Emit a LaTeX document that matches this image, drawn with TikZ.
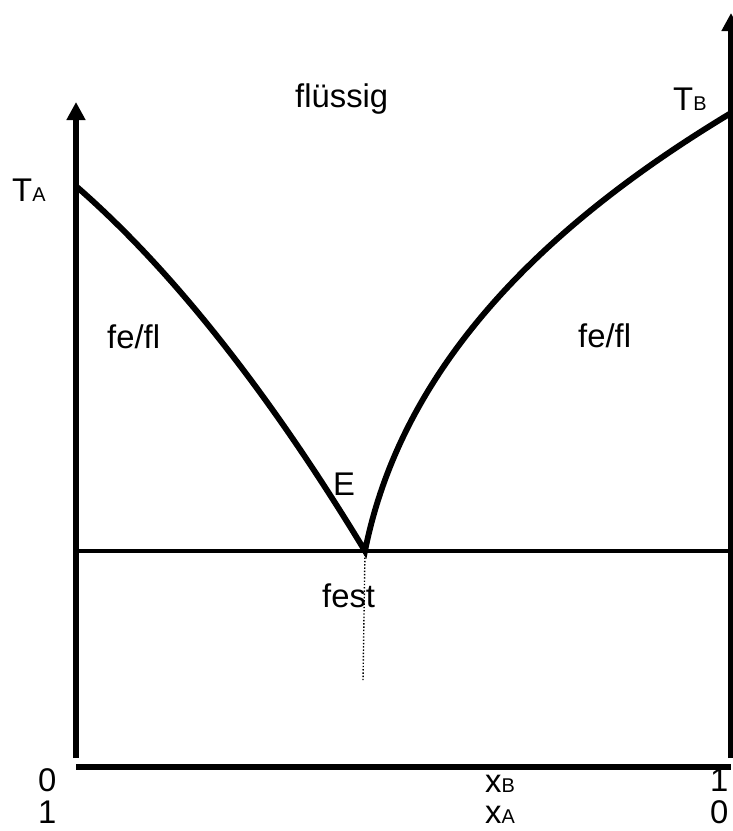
\documentclass[tikz,border=0pt]{standalone}
\usepackage{fontspec}
\setmainfont{Liberation Sans}
\usetikzlibrary{arrows.meta}
\newcommand\lowidx[1]{{\fontsize{17}{20}\selectfont #1}}

\begin{document}
\begin{tikzpicture}[x=0.03cm,y=-0.03cm,>={Triangle[width=15.4pt,length=15.4pt]}]
\tikzstyle{lbl}=[anchor=base west,inner sep=0pt,font=\fontsize{28}{33}\selectfont]
\tikzstyle{axis}=[line width=5.4pt]
\tikzstyle{liq}=[line width=5pt,line join=miter]
\useasboundingbox (0,0) rectangle (733,831);
% axes
\coordinate (A0) at (76,758);
\coordinate (A1) at (76,102);
\coordinate (B0) at (731,758);
\coordinate (B1) at (731,13);
\coordinate (X0) at (76,767);
\coordinate (X1) at (731,767);
\draw[axis,->] (A0) -- (A1);
\draw[axis,->] (B0) -- (B1);
\draw[axis] (X0) -- (X1);
% eutectic line and liquidus curves
\coordinate (E) at (365,551);
\coordinate (Ed) at (363,680);
\coordinate (EL) at (76,551);
\coordinate (ER) at (731,551);
\coordinate (TA) at (77,187);
\coordinate (TB) at (731,113);
\draw[line width=4.2pt] (EL) -- (ER);
\draw[liq] (TA) .. controls (187,283) and (285,419) .. (E)
  .. controls (404,355) and (560,216) .. (TB);
\draw[line width=1.2pt,dash pattern=on 1.2pt off 1.6pt] (E) -- (Ed);
% labels
\node[lbl] (ta) at (12,201) {T\lowidx{A}};
\node[lbl] (tb) at (673,110) {T\lowidx{B}};
\node[lbl] (fl) at (295,107) {flüssig};
\node[lbl] (ffl) at (107,348) {fe/fl};
\node[lbl] (ffr) at (578,347) {fe/fl};
\node[lbl] (e) at (333,495) {E};
\node[lbl] (fest) at (322,607) {fest};
\node[lbl] (b0) at (38,791) {0};
\node[lbl] (a1) at (38,823) {1};
\node[lbl] (xb) at (485,792) {x\lowidx{B}};
\node[lbl] (xa) at (485,823) {x\lowidx{A}};
\node[lbl] (b1) at (710,791) {1};
\node[lbl] (a0) at (710,823) {0};
\end{tikzpicture}
\end{document}
